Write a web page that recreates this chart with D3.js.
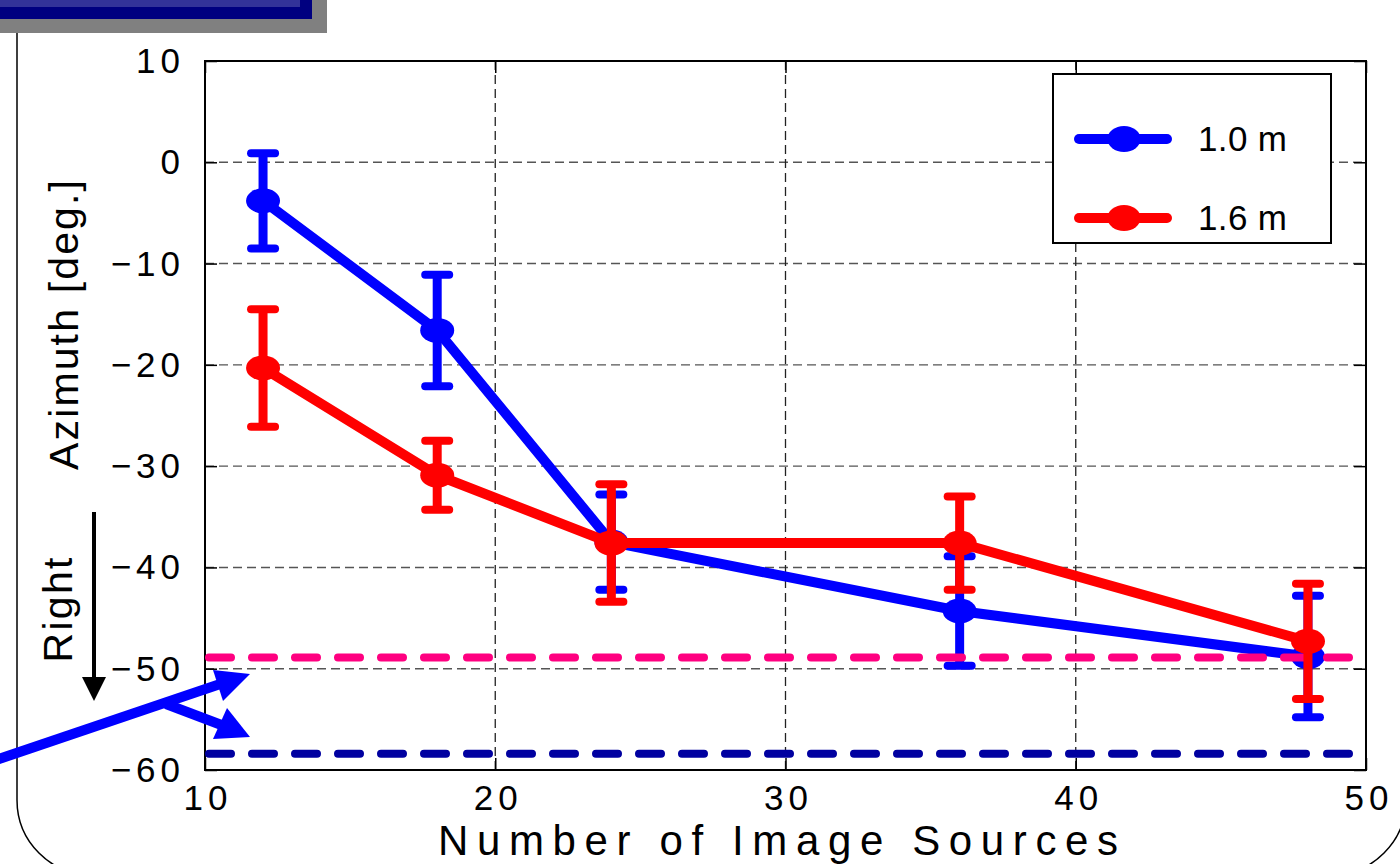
<!DOCTYPE html>
<html>
<head>
<meta charset="utf-8">
<script src="https://cdn.jsdelivr.net/npm/d3@7"></script>
<style>
  html, body { margin: 0; padding: 0; background: #fff; }
  svg { display: block; }
  text { font-family: "Liberation Sans", Arial, sans-serif; fill: #000; }
</style>
</head>
<body>
<svg id="chart" width="1400" height="864"></svg>
<script>
// Number of image sources on the x axis
const sources = [12, 18, 24, 36, 48];

// Mean azimuth and spread for the 1.0 m distance
const mean10 = [-3.8, -16.6, -37.5, -44.3, -48.8];
const err10  = [4.7, 5.5, 4.7, 5.4, 6.0];

// Mean azimuth and spread for the 1.6 m distance
const mean16 = [-20.3, -30.9, -37.6, -37.6, -47.3];
const err16  = [5.8, 3.4, 5.8, 4.6, 5.7];

// Horizontal reference levels
const refLevels = [-48.9, -58.4];
const refColors = ["#ff0080", "#0000a0"];

const seriesNames = ["1.0 m", "1.6 m"];
const seriesColors = ["#0000ff", "#ff0000"];

const xTicks = [10, 20, 30, 40, 50];
const yTicks = [10, 0, -10, -20, -30, -40, -50, -60];

const svg = d3.select("#chart");

const x = d3.scaleLinear().domain([10, 50]).range([205, 1366]);
const y = d3.scaleLinear().domain([-60, 10]).range([770, 61]);

// Rounded panel outline
svg.append("rect")
  .attr("x", 17).attr("y", -80)
  .attr("width", 1389).attr("height", 955)
  .attr("rx", 75).attr("ry", 75)
  .attr("fill", "none").attr("stroke", "#000").attr("stroke-width", 1.5);

// Title banner in the corner
svg.append("rect").attr("x", 0).attr("y", 0).attr("width", 327).attr("height", 33).attr("fill", "#808080");
svg.append("rect").attr("x", 0).attr("y", 0).attr("width", 312).attr("height", 19).attr("fill", "#000080");
svg.append("rect").attr("x", 0).attr("y", 0).attr("width", 300).attr("height", 7).attr("fill", "#333399");

// Plot area background
svg.append("rect")
  .attr("x", x(10)).attr("y", y(10))
  .attr("width", x(50) - x(10)).attr("height", y(-60) - y(10))
  .attr("fill", "#fff");

// Grid lines
const grid = svg.append("g");
grid.selectAll("line.h")
  .data(yTicks.filter(d => d > -60 && d < 10))
  .join("line")
  .attr("x1", x(10)).attr("x2", x(50))
  .attr("y1", d => y(d)).attr("y2", d => y(d))
  .attr("stroke", "#555").attr("stroke-width", 1.4)
  .attr("stroke-dasharray", "9,5");
grid.selectAll("line.v")
  .data(xTicks.filter(d => d > 10 && d < 50))
  .join("line")
  .attr("x1", d => x(d)).attr("x2", d => x(d))
  .attr("y1", y(10)).attr("y2", y(-60))
  .attr("stroke", "#222").attr("stroke-width", 1.3)
  .attr("stroke-dasharray", "9,5");

// Axes with inward ticks
const axisLeft = d3.axisLeft(y).tickValues(yTicks).tickSize(-12).tickFormat("");
const axisRight = d3.axisRight(y).tickValues(yTicks).tickSize(-12).tickFormat("");
const axisBottom = d3.axisBottom(x).tickValues(xTicks).tickSize(-12).tickFormat("");
const axisTop = d3.axisTop(x).tickValues(xTicks).tickSize(-12).tickFormat("");
[[axisLeft, `translate(${x(10)},0)`], [axisRight, `translate(${x(50)},0)`],
 [axisBottom, `translate(0,${y(-60)})`], [axisTop, `translate(0,${y(10)})`]].forEach(([ax, tr]) => {
  const g = svg.append("g").attr("transform", tr).call(ax);
  g.select(".domain").remove();
  g.selectAll("line").attr("stroke", "#000").attr("stroke-width", 1.5);
});

// Frame
svg.append("rect")
  .attr("x", x(10)).attr("y", y(10))
  .attr("width", x(50) - x(10)).attr("height", y(-60) - y(10))
  .attr("fill", "none").attr("stroke", "#000").attr("stroke-width", 2);

// Tick labels
const fmt = d => d3.format("d")(d).replace("-", "\u2212");
svg.append("g").selectAll("text")
  .data(yTicks)
  .join("text")
  .attr("x", 185).attr("y", d => y(d) + 12)
  .attr("text-anchor", "end")
  .attr("font-size", 35)
  .attr("letter-spacing", 5)
  .text(fmt);
svg.append("g").selectAll("text")
  .data(xTicks)
  .join("text")
  .attr("x", d => x(d) + 3).attr("y", 810)
  .attr("text-anchor", "middle")
  .attr("font-size", 35)
  .attr("letter-spacing", 5)
  .text(fmt);

// Axis titles
svg.append("text")
  .attr("x", 778).attr("y", 855)
  .attr("text-anchor", "middle")
  .attr("font-size", 42)
  .attr("textLength", 680).attr("lengthAdjust", "spacing")
  .text("Number of Image Sources");

svg.append("text")
  .attr("transform", "translate(78,325) rotate(-90)")
  .attr("text-anchor", "middle")
  .attr("font-size", 41)
  .attr("textLength", 290).attr("lengthAdjust", "spacing")
  .text("Azimuth [deg.]");

svg.append("text")
  .attr("transform", "translate(72,610) rotate(-90)")
  .attr("text-anchor", "middle")
  .attr("font-size", 41)
  .attr("textLength", 105).attr("lengthAdjust", "spacing")
  .text("Right");

// Downward arrow beside "Right"
svg.append("line")
  .attr("x1", 94).attr("x2", 94).attr("y1", 512).attr("y2", 685)
  .attr("stroke", "#000").attr("stroke-width", 4);
svg.append("path")
  .attr("d", "M82,677 L106,677 L94,701 Z")
  .attr("fill", "#000");

// Series drawing helper
const lineGen = d3.line().x(d => x(d[0])).y(d => y(d[1]));

function drawSeries(means, errs, color) {
  const g = svg.append("g");
  const pts = sources.map((s, i) => [s, means[i], errs[i]]);
  g.append("path")
    .datum(pts)
    .attr("d", lineGen)
    .attr("fill", "none").attr("stroke", color)
    .attr("stroke-width", 10).attr("stroke-linejoin", "round");
  g.selectAll("line.bar")
    .data(pts).join("line")
    .attr("x1", d => x(d[0])).attr("x2", d => x(d[0]))
    .attr("y1", d => y(d[1] + d[2])).attr("y2", d => y(d[1] - d[2]))
    .attr("stroke", color).attr("stroke-width", 9);
  [1, -1].forEach(sgn => {
    g.selectAll(null)
      .data(pts).join("line")
      .attr("x1", d => x(d[0]) - 12).attr("x2", d => x(d[0]) + 12)
      .attr("y1", d => y(d[1] + sgn * d[2])).attr("y2", d => y(d[1] + sgn * d[2]))
      .attr("stroke", color).attr("stroke-width", 8).attr("stroke-linecap", "round");
  });
  g.selectAll("ellipse")
    .data(pts).join("ellipse")
    .attr("cx", d => x(d[0])).attr("cy", d => y(d[1]))
    .attr("rx", 17).attr("ry", 12.5)
    .attr("fill", color);
}

drawSeries(mean10, err10, seriesColors[0]);

// Reference levels
svg.append("g").selectAll("line")
  .data(refLevels)
  .join("line")
  .attr("x1", x(10) + 4).attr("x2", x(50))
  .attr("y1", d => y(d)).attr("y2", d => y(d))
  .attr("stroke", (d, i) => refColors[i])
  .attr("stroke-width", 8)
  .attr("stroke-linecap", "round")
  .attr("stroke-dasharray", "22,21");

drawSeries(mean16, err16, seriesColors[1]);

// Pointer arrows toward the reference levels
const arrows = svg.append("g").attr("fill", "#0000ff");
arrows.append("line")
  .attr("x1", -10).attr("y1", 762).attr("x2", 232).attr("y2", 680)
  .attr("stroke", "#0000ff").attr("stroke-width", 10);
arrows.append("path").attr("d", "M250,674 L213,670 L223,701 Z");
arrows.append("line")
  .attr("x1", 166).attr("y1", 704).attr("x2", 232).attr("y2", 729)
  .attr("stroke", "#0000ff").attr("stroke-width", 10);
arrows.append("path").attr("d", "M250,737 L227,708 L213,739 Z");

// Legend
const legend = svg.append("g");
legend.append("rect")
  .attr("x", 1053).attr("y", 74).attr("width", 278).attr("height", 169)
  .attr("fill", "#fff").attr("stroke", "#000").attr("stroke-width", 2);
const legendY = [139, 218];
seriesNames.forEach((name, i) => {
  legend.append("line")
    .attr("x1", 1079).attr("x2", 1167)
    .attr("y1", legendY[i]).attr("y2", legendY[i])
    .attr("stroke", seriesColors[i]).attr("stroke-width", 10)
    .attr("stroke-linecap", "round");
  legend.append("ellipse")
    .attr("cx", 1124).attr("cy", legendY[i])
    .attr("rx", 16.5).attr("ry", 13)
    .attr("fill", seriesColors[i]);
  legend.append("text")
    .attr("x", 1198).attr("y", legendY[i] + 12)
    .attr("font-size", 35)
    .attr("textLength", 89).attr("lengthAdjust", "spacing")
    .text(name);
});
</script>
</body>
</html>
